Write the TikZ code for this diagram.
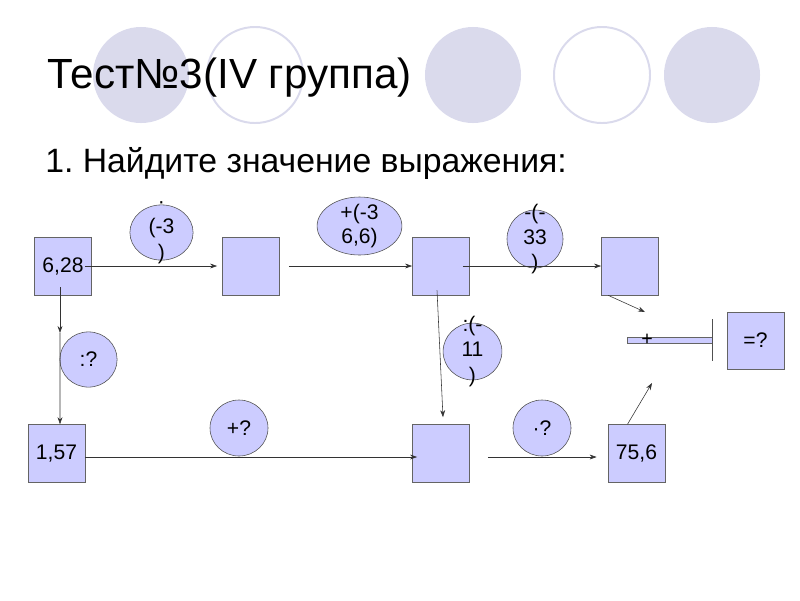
\documentclass[tikz,border=0pt]{standalone}
\usepackage{fontspec}
\setmainfont{Liberation Sans}
\usetikzlibrary{shapes.geometric, arrows.meta, calc}
\definecolor{boxfill}{RGB}{204,204,255}
\definecolor{decofill}{RGB}{218,218,236}
\definecolor{boxline}{RGB}{100,100,100}
\definecolor{opline}{RGB}{80,80,80}
\frenchspacing

\begin{document}
\begin{tikzpicture}[
    x=0.025cm, y=-0.025cm,
    deco/.style={circle, minimum size=2.4cm, inner sep=0pt},
    box/.style={rectangle, draw=boxline, fill=boxfill, minimum width=1.43cm,
                minimum height=1.45cm, inner sep=0pt, font=\fontsize{15}{17}\selectfont},
    op/.style={ellipse, draw=opline, fill=boxfill, inner sep=0pt},
    optext/.style={align=center, font=\fontsize{15}{18}\selectfont},
    arrow/.style={-{Stealth[length=5pt,width=3.5pt]}, thin, draw=black!80}
]
\useasboundingbox (0,0) rectangle (800,600);

% decorative circles behind the title
\node[deco, fill=decofill] (c1) at (141,75) {};
\node[deco, draw=decofill, line width=1.4pt] (c2) at (255,75) {};
\node[deco, fill=decofill] (c3) at (473,75) {};
\node[deco, draw=decofill, line width=1.4pt] (c4) at (602,75) {};
\node[deco, fill=decofill] (c5) at (712,75) {};

\node[anchor=base west, inner sep=0pt, font=\fontsize{30}{36}\selectfont] (title) at (47,88) {Тест№3(IV группа)};
\node[anchor=base west, inner sep=0pt, font=\fontsize{24}{28}\selectfont] (task) at (45,172) {1. Найдите значение выражения:};

% boxes
\node[box] (start) at (63,266)    {6,28};
\node[box] (sq1)   at (251,266)   {};
\node[box] (sq2)   at (441,266)   {};
\node[box] (sq3)   at (630,266)   {};
\node[box, minimum height=1.43cm] (result) at (755.5,340.5) {=?};
\node[box] (half)  at (56.5,453.5) {1,57};
\node[box] (sq4)   at (441,453.5) {};
\node[box] (end)   at (636.5,453.5) {75,6};

% operations
\node[op, minimum width=1.58cm, minimum height=1.38cm,
      label={[optext]center:{·\\(-3\\)}}] (mul) at (161.5,232.5) {};
\node[op, minimum width=2.12cm, minimum height=1.45cm,
      label={[optext, font=\fontsize{15}{17}\selectfont]center:{+(-3\\6,6)}}] (add) at (359.5,226) {};
\node[op, minimum width=1.4cm, minimum height=1.45cm,
      label={[optext]center:{-(-\\33\\)}}] (sub) at (535,239) {};
\node[op, minimum width=1.43cm, minimum height=1.38cm,
      label={[optext]center:{:?}}] (divq) at (88.5,359.5) {};
\node[op, minimum width=1.45cm, minimum height=1.4cm,
      label={[optext]center:{+?}}] (addq) at (239,428) {};
\node[op, minimum width=1.47cm, minimum height=1.42cm,
      label={[optext]center:{:(-\\11\\)}}] (div) at (472.5,351.5) {};
\node[op, minimum width=1.45cm, minimum height=1.4cm,
      label={[optext]center:{·?}}] (mulq) at (542,428) {};

% the sum bar
\node[rectangle, draw=boxline, fill=boxfill, minimum width=2.12cm,
      minimum height=0.15cm, inner sep=0pt] (bar) at (669.5,340) {};
\node[inner sep=0pt, font=\fontsize{14}{16}\selectfont] (plus) at (647,340) {+};
\draw[opline, line width=1pt] ($(bar.east)+(0,-21)$) -- ($(bar.east)+(0,21)$);

\coordinate (down) at (60,333);
\coordinate (inA) at (645,312);
\coordinate (inB) at (652,383);

% arrows
\draw[arrow] ($(start.east)+(-7,0)$) -- ($(sq1.west)+(-5,0)$);
\draw[arrow] ($(sq1.east)+(9,0)$) -- (sq2.west);
\draw[arrow] ($(sq2.east)+(-7,0)$) -- (sq3.west);
\draw[arrow] ($(sq3.south west)+(7,0)$) -- (inA);
\draw[arrow] ($(start.south)+(-3,-8)$) -- (down);
\draw[arrow] (down) -- ($(half.north)+(3.5,0)$);
\draw[arrow] ($(sq2.south)+(-4,-5)$) -- ($(sq4.north)+(2,-7)$);
\draw[arrow] ($(half.east)+(0,3.5)$) -- ($(sq4.west)+(5,3.5)$);
\draw[arrow] ($(sq4.east)+(18,3.5)$) -- ($(end.west)+(-11,3.5)$);
\draw[arrow] ($(end.north)+(-9,0)$) -- (inB);
\end{tikzpicture}
\end{document}
